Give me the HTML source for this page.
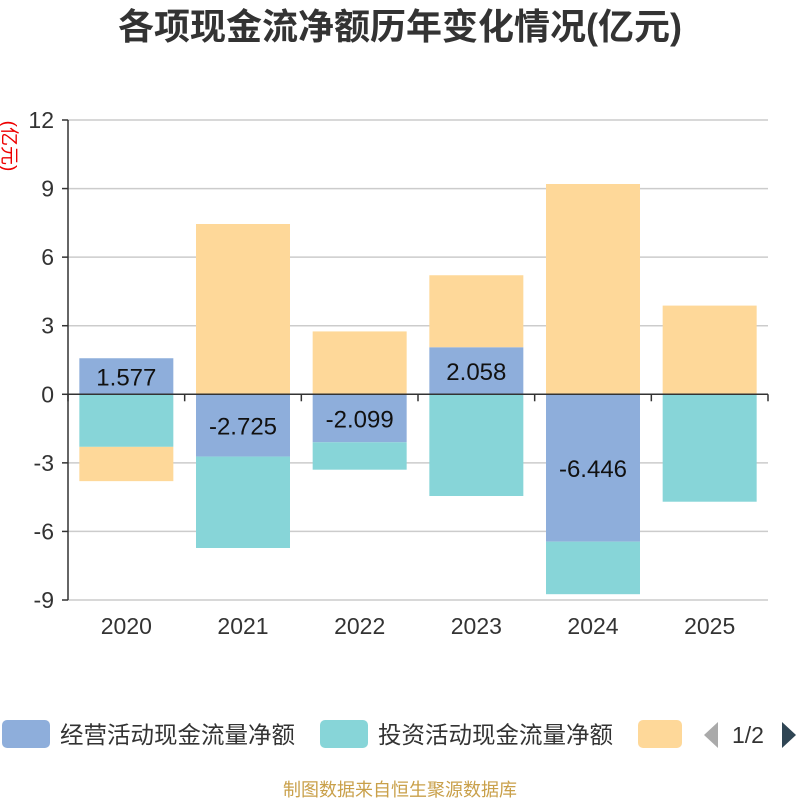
<!DOCTYPE html>
<html><head><meta charset="utf-8"><style>
body{margin:0;background:#fff;font-family:"Liberation Sans","Noto Sans CJK SC",sans-serif}
</style></head><body>
<svg id="c" width="800" height="800" style="display:block">
<text x="400" y="39" text-anchor="middle" font-size="36" font-weight="bold" fill="#333">各项现金流净额历年变化情况(亿元)</text>
<text transform="translate(3,146) rotate(90)" text-anchor="middle" font-size="19" fill="#e00">(亿元)</text>
<g id="grid"></g><g id="bars"></g><g id="axes"></g>
<g>
<g><rect x="2" y="720" width="48" height="28" rx="5" fill="#8eaedb"/><text x="60" y="743" font-size="23.5" fill="#333">经营活动现金流量净额</text></g>
<g><rect x="320" y="720" width="48" height="28" rx="5" fill="#87d5d8"/><text x="378" y="743" font-size="23.5" fill="#333">投资活动现金流量净额</text></g>
<g><rect x="638" y="720" width="44" height="28" rx="5" fill="#fed899"/></g>
<path d="M718 722 L704 735 L718 748Z" fill="#aaa"/>
<text x="732" y="743" font-size="23" fill="#333">1/2</text>
<path d="M782 722 L796 735 L782 748Z" fill="#2f4554"/>
</g>
<text x="400" y="796" text-anchor="middle" font-size="18" fill="#c9a04a">制图数据来自恒生聚源数据库</text>
</svg>
<script>
const years=["2020","2021","2022","2023","2024","2025"];
const operating=[1.577,-2.725,-2.099,2.058,-6.446,0.03];
const investing=[-2.3,-4.0,-1.2,-4.45,-2.3,-4.7];
const financing=[-1.5,7.45,2.75,3.15,9.2,3.85];
const opLabels=["1.577","-2.725","-2.099","2.058","-6.446",""];
const yTicks=[12,9,6,3,0,-3,-6,-9];
const NS="http://www.w3.org/2000/svg";
const X0=68,X1=768,TOP=120,BOT=600,YMAX=12,YMIN=-9;
const yS=v=>TOP+(YMAX-v)*(BOT-TOP)/(YMAX-YMIN);
const band=(X1-X0)/years.length;
const xc=i=>X0+band*(i+0.5);
function mk(tag,attrs,parent){const e=document.createElementNS(NS,tag);for(const k in attrs)e.setAttribute(k,attrs[k]);parent.appendChild(e);return e;}
const gridG=document.getElementById('grid'),barsG=document.getElementById('bars'),axesG=document.getElementById('axes');
yTicks.forEach(t=>{
 const l=mk('line',{x1:X0,x2:X1,y1:yS(t),y2:yS(t),stroke:'#ccc','stroke-width':1.5},gridG);
 
 
 const tk=mk('line',{x1:X0-6,x2:X0,y1:yS(t),y2:yS(t),stroke:'#333','stroke-width':1.5},axesG);
 
 
 const tx=mk('text',{x:X0-14,y:yS(t)+8,'text-anchor':'end','font-size':23,fill:'#333'},axesG);
 tx.textContent=t;
 
 
});
const series=[[operating,'#8eaedb','operating'],[investing,'#87d5d8','investing'],[financing,'#fed899','financing']];
const bw=94;
years.forEach((yr,i)=>{
 let pos=0,neg=0;
 series.forEach(([arr,col,nm])=>{
  const v=arr[i];let a,b;
  if(v>=0){a=pos;b=pos+v;pos=b;}else{a=neg;b=neg+v;neg=b;}
  const r=mk('rect',{x:xc(i)-bw/2,y:Math.min(yS(a),yS(b)),width:bw,height:Math.abs(yS(a)-yS(b)),fill:col},barsG);
  
  
 });
 if(opLabels[i]){
  const v=operating[i];
  const t=mk('text',{x:xc(i),y:yS(v/2)+9,'text-anchor':'middle','font-size':24,fill:'#111'},barsG);
  t.textContent=opLabels[i];
  
  
 }
 const lx=mk('text',{x:xc(i),y:634,'text-anchor':'middle','font-size':23,fill:'#333'},axesG);
 lx.textContent=yr;
 
 
});
const ya=mk('line',{x1:X0,x2:X0,y1:TOP,y2:BOT,stroke:'#333','stroke-width':1.5},axesG);


const xa=mk('line',{x1:X0,x2:X1,y1:yS(0),y2:yS(0),stroke:'#333','stroke-width':1.5},axesG);


for(let i=0;i<=years.length;i++){
 const t=mk('line',{x1:X0+band*i,x2:X0+band*i,y1:yS(0),y2:yS(0)+7,stroke:'#333','stroke-width':1.5},axesG);
 
 
}
</script>
</body></html>
